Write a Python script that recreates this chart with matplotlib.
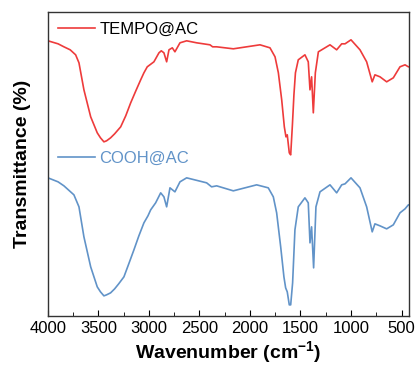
import matplotlib
matplotlib.use("Agg")
import matplotlib.pyplot as plt
from matplotlib.ticker import MultipleLocator

plt.rcParams['font.family'] = ['Liberation Sans', 'DejaVu Sans']
plt.rcParams['mathtext.fontset'] = 'custom'
plt.rcParams['mathtext.rm'] = 'Liberation Sans'
plt.rcParams['mathtext.bf'] = 'Liberation Sans:bold'

# FTIR spectra (wavenumber in cm-1, transmittance in arbitrary offset units)
tempo_wn = [4000, 3900, 3842, 3780, 3726, 3693, 3644, 3577, 3512, 3480, 3446, 3420,
            3380, 3340, 3280, 3230, 3181, 3130, 3082, 3050, 3017, 2951, 2901, 2878,
            2852, 2825, 2802, 2769, 2743, 2693, 2627, 2528, 2396, 2370, 2330, 2165,
            2033, 1901, 1802, 1752, 1719, 1686, 1660, 1644, 1631, 1611, 1597, 1580,
            1565, 1550, 1522, 1456, 1423, 1406, 1390, 1373, 1353, 1323, 1208, 1142,
            1092, 1059, 1000, 911, 845, 790, 763, 713, 647, 581, 515, 465, 432, 425]
tempo_t = [275, 272, 269, 266, 261, 253, 226, 199, 183, 178, 174, 175,
           178, 182, 189, 200, 213, 225, 236, 243, 249, 254, 263, 265,
           263, 254, 266, 268, 264, 273, 275, 273, 271, 269, 269, 267,
           269, 271, 268, 259, 243, 216, 189, 179, 181, 163, 161, 191,
           221, 243, 256, 261, 254, 226, 239, 203, 243, 264, 271, 266,
           272, 272, 276, 266, 254, 234, 241, 239, 234, 238, 249, 251, 249, 249]

cooh_wn = [4000, 3900, 3842, 3743, 3693, 3644, 3577, 3512, 3480, 3446, 3420, 3380,
           3340, 3300, 3248, 3200, 3149, 3100, 3050, 3010, 2983, 2934, 2884, 2852,
           2825, 2792, 2743, 2693, 2627, 2429, 2380, 2330, 2165, 1934, 1819, 1769,
           1736, 1696, 1664, 1647, 1631, 1611, 1597, 1578, 1555, 1522, 1456, 1423,
           1406, 1390, 1370, 1347, 1307, 1208, 1142, 1092, 1059, 1000, 911, 845,
           790, 763, 713, 647, 581, 515, 465, 432, 425]
cooh_t = [138, 134, 130, 121, 109, 79, 49, 29, 24, 20, 21, 23,
          27, 32, 39, 52, 66, 80, 93, 100, 106, 113, 123, 119,
          109, 128, 124, 134, 138, 133, 129, 130, 125, 131, 128, 119,
          103, 69, 39, 28, 24, 11, 11, 33, 86, 109, 118, 113,
          73, 89, 48, 109, 124, 131, 123, 131, 132, 138, 128, 109,
          84, 92, 90, 87, 91, 103, 107, 111, 111]

fig = plt.figure(figsize=(4.17, 3.69), dpi=100)
ax = fig.add_axes([0.115, 0.144, 0.866, 0.824])

red_line, = ax.plot(tempo_wn, tempo_t, color='#EE3B3B', lw=1.2)
blue_line, = ax.plot(cooh_wn, cooh_t, color='#6193C8', lw=1.2)

ax.set_xlim(4000, 425)
ax.set_ylim(0, 304)
ax.xaxis.set_major_locator(MultipleLocator(500))
ax.xaxis.set_minor_locator(MultipleLocator(250))
ax.tick_params(axis='x', which='both', direction='in', labelsize=12, pad=4)
ax.tick_params(axis='x', which='major', length=4)
ax.tick_params(axis='x', which='minor', length=3)
ax.set_yticks([])
for s in ax.spines.values():
    s.set_color('#333333')
    s.set_linewidth(1.0)

ax.set_xlabel(r'Wavenumber (cm$^{\mathbf{-1}}$)', fontsize=14, fontweight='bold', labelpad=2)
ax.set_ylabel('Transmittance (%)', fontsize=14, fontweight='bold', labelpad=12)

leg1 = ax.legend([red_line], ['TEMPO@AC'], loc='upper left', frameon=False,
                 fontsize=12, handlelength=2.2, handletextpad=0.3,
                 borderaxespad=0.2, labelcolor='black')
ax.add_artist(leg1)
ax.legend([blue_line], ['COOH@AC'], loc='upper left', bbox_to_anchor=(0.0, 0.575),
          frameon=False, fontsize=12, handlelength=2.2, handletextpad=0.3,
          borderaxespad=0.2, labelcolor='#6193C8')

fig.savefig('out.png', dpi=100)
